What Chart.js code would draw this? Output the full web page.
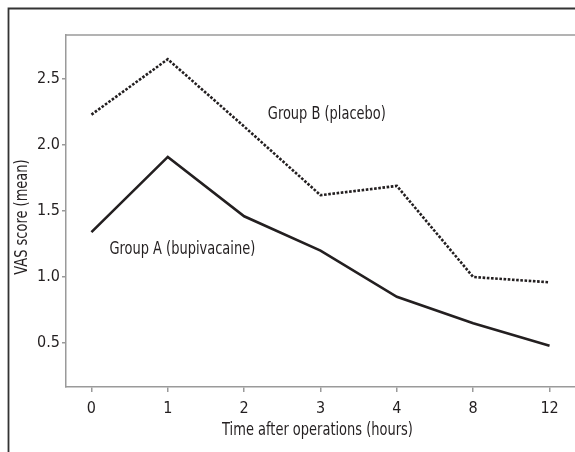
<!DOCTYPE html>
<html>
<head>
<meta charset="utf-8">
<script src="https://cdn.jsdelivr.net/npm/chart.js@4"></script>
<style>
  html, body { margin: 0; padding: 0; background: #fff; }
  #wrap { position: relative; width: 575px; height: 452px; }
</style>
</head>
<body>
<div id="wrap"><canvas id="vasChart" width="575" height="452"></canvas></div>
<script>
// time points (hours) shown as evenly spaced categories
const timeLabels = ['0', '1', '2', '3', '4', '8', '12'];
const groupA = [1.34, 1.91, 1.46, 1.20, 0.85, 0.65, 0.48];   // bupivacaine
const groupB = [2.23, 2.65, 2.14, 1.62, 1.69, 1.00, 0.96];   // placebo
const yTicks = [0.5, 1.0, 1.5, 2.0, 2.5];

// text labels placed inside the plot (data coordinates)
const lineNotes = [
    { text: 'Group B (placebo)', x: 2.31, y: 2.23 },
    { text: 'Group A (bupivacaine)', x: 0.235, y: 1.205 }
];

const FONT = '"Liberation Sans Narrow", "DejaVu Sans Condensed", "Arial Narrow", sans-serif';
const INK = '#231f20';
const AXIS = '#9a9a9a';
const SQUEEZE = 0.85; // horizontal squeeze so the text looks condensed like the original

function narrowText(ctx, text, x, y, rot) {
    ctx.save();
    ctx.translate(x, y);
    if (rot) ctx.rotate(rot);
    ctx.scale(SQUEEZE, 1);
    ctx.fillText(text, 0, 0);
    ctx.restore();
}

const framePlugin = {
    id: 'frame',
    afterDraw(chart) {
        const ctx = chart.ctx;
        const a = chart.chartArea;
        const x = chart.scales.x, y = chart.scales.y;
        ctx.save();
        // outer frame (left + top)
        ctx.strokeStyle = '#333';
        ctx.lineWidth = 1.8;
        ctx.beginPath();
        ctx.moveTo(8.5, chart.height);
        ctx.lineTo(8.5, 8.5);
        ctx.lineTo(chart.width, 8.5);
        ctx.stroke();
        // top edge of plot box
        ctx.strokeStyle = AXIS;
        ctx.lineWidth = 1.5;
        ctx.beginPath();
        ctx.moveTo(a.left, a.top);
        ctx.lineTo(a.right, a.top);
        ctx.stroke();

        ctx.fillStyle = INK;
        ctx.font = '17px ' + FONT;
        ctx.textBaseline = 'middle';
        ctx.textAlign = 'left';
        lineNotes.forEach(n => {
            narrowText(ctx, n.text, x.getPixelForValue(n.x), y.getPixelForValue(n.y));
        });

        // axis titles
        ctx.textAlign = 'center';
        narrowText(ctx, 'Time after operations (hours)', (a.left + a.right) / 2 - 3, 431);
        narrowText(ctx, 'VAS score (mean)', 23, 217, -Math.PI / 2);
        ctx.restore();
    }
};

new Chart(document.getElementById('vasChart').getContext('2d'), {
    type: 'line',
    data: {
        datasets: [
            {
                label: 'Group B (placebo)',
                data: groupB.map((v, i) => ({ x: i, y: v })),
                borderColor: INK,
                borderWidth: 2.6,
                borderDash: [2.6, 1.6],
                pointRadius: 0,
                tension: 0,
                fill: false
            },
            {
                label: 'Group A (bupivacaine)',
                data: groupA.map((v, i) => ({ x: i, y: v })),
                borderColor: INK,
                borderWidth: 2.6,
                pointRadius: 0,
                tension: 0,
                fill: false
            }
        ]
    },
    options: {
        responsive: false,
        animation: false,
        layout: { padding: { left: 0, top: 35, right: 0, bottom: 0 } },
        plugins: { legend: { display: false }, tooltip: { enabled: false } },
        scales: {
            x: {
                type: 'linear',
                min: -1 / 3,
                max: timeLabels.length - 1 + 1 / 3,
                afterFit: s => { s.height = 65; },
                afterBuildTicks: s => { s.ticks = timeLabels.map((t, i) => ({ value: i })); },
                grid: { drawOnChartArea: false, color: AXIS, lineWidth: 1.5, tickLength: 5 },
                border: { color: AXIS, width: 1.5 },
                ticks: {
                    color: INK,
                    font: { family: FONT, size: 16 },
                    padding: 7,
                    maxRotation: 0,
                    callback: v => timeLabels[v]
                }
            },
            y: {
                type: 'linear',
                min: 1 / 6,
                max: 2.5 + 1 / 3,
                afterFit: s => { s.width = 66; },
                afterBuildTicks: s => { s.ticks = yTicks.map(v => ({ value: v })); },
                grid: { drawOnChartArea: false, color: AXIS, lineWidth: 1.5, tickLength: 4 },
                border: { color: AXIS, width: 1.5 },
                ticks: {
                    color: INK,
                    font: { family: FONT, size: 16 },
                    padding: 2,
                    callback: v => v.toFixed(1)
                }
            }
        }
    },
    plugins: [framePlugin]
});
</script>
</body>
</html>
